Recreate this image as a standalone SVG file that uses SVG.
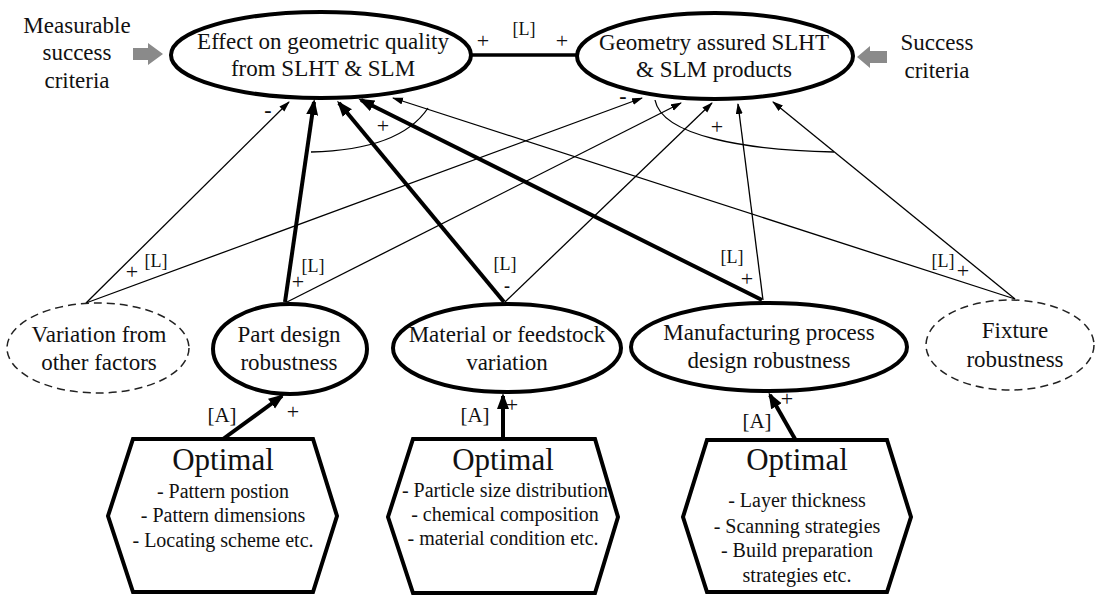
<svg xmlns="http://www.w3.org/2000/svg" width="1096" height="597" viewBox="0 0 1096 597">
  <style>
    text { font-family: "Liberation Serif", "Times New Roman", serif; fill: #111; }
    .t { font-size: 23px; text-anchor: middle; }
    .h { font-size: 31px; text-anchor: middle; }
    .s { font-size: 20px; text-anchor: middle; }
    .lab { font-size: 18px; text-anchor: middle; }
    .a { font-size: 21px; text-anchor: middle; }
    .sg { font-size: 22px; text-anchor: middle; }
    .neg { font-size: 22px; font-weight: bold; text-anchor: middle; }
    .solid { fill: #fff; stroke: #000; stroke-width: 4; }
    .dash { fill: #fff; stroke: #222; stroke-width: 1.5; stroke-dasharray: 8 5; }
    .hex { fill: #fff; stroke: #000; stroke-width: 4; stroke-linejoin: miter; }
    .thin { fill: none; stroke: #000; stroke-width: 1.3; marker-end: url(#ah-thin); }
    .thick { fill: none; stroke: #000; stroke-width: 4; marker-end: url(#ah-thick); }
    .arc { fill: none; stroke: #000; stroke-width: 1.3; }
    .gray { fill: #8a8a8a; }
  </style>
  <defs>
    <marker id="ah-thin" markerUnits="userSpaceOnUse" markerWidth="12" markerHeight="8" refX="10" refY="3.5" orient="auto">
      <path d="M0,0 L11,3.5 L0,7 z" fill="#000"/>
    </marker>
    <marker id="ah-thick" markerUnits="userSpaceOnUse" markerWidth="17" markerHeight="13" refX="13" refY="6" orient="auto">
      <path d="M0,0 L16,6 L0,12 z" fill="#000"/>
    </marker>
  </defs>

  <rect width="1096" height="597" fill="#fff"/>

  <!-- connectors -->
  <g id="connectors">
    <!-- link between the two top goals -->
    <line x1="471" y1="55" x2="578" y2="55" stroke="#000" stroke-width="3.5"/>
    <!-- thin links -->
    <path class="thin" d="M86,303 L289,102"/>
    <path class="thin" d="M86,303 L642,98"/>
    <path class="thin" d="M287,302 L681,103"/>
    <path class="thin" d="M505,302 L712,103"/>
    <path class="thin" d="M763,300 L738,104"/>
    <path class="thin" d="M1015,299 L773,102"/>
    <path class="thin" d="M1015,299 L393,98"/>
    <!-- thick links -->
    <path class="thick" d="M285,302 L314,102"/>
    <path class="thick" d="M504,302 L339,103"/>
    <path class="thick" d="M762,300 L361,100"/>
    <path class="thick" d="M223,439 L282,396"/>
    <path class="thick" d="M503,439 L503,396"/>
    <path class="thick" d="M795,439 L770,395"/>
    <!-- grouping arcs -->
    <path class="arc" d="M311,152 Q400,150 428,108"/>
    <path class="arc" d="M655,100 C662,136 745,150 834,152"/>
    <!-- polarity and link labels -->
    <text class="sg" x="483" y="48">+</text>
    <text class="lab" x="524" y="35">[L]</text>
    <text class="sg" x="562" y="48">+</text>
    <text class="neg" x="268" y="117">-</text>
    <text class="sg" x="383" y="133">+</text>
    <text class="neg" x="623" y="103">-</text>
    <text class="sg" x="717" y="134">+</text>
    <text class="sg" x="132" y="279">+</text>
    <text class="lab" x="156" y="267">[L]</text>
    <text class="sg" x="298" y="289">+</text>
    <text class="lab" x="313" y="272">[L]</text>
    <text class="lab" x="505" y="270">[L]</text>
    <text class="neg" x="507" y="292" style="font-size:18px">-</text>
    <text class="lab" x="732" y="263">[L]</text>
    <text class="sg" x="747" y="286">+</text>
    <text class="lab" x="943" y="267">[L]</text>
    <text class="sg" x="963" y="278">+</text>
    <text class="a" x="222" y="422">[A]</text>
    <text class="sg" x="293" y="419">+</text>
    <text class="a" x="475" y="422">[A]</text>
    <text class="sg" x="512" y="412">+</text>
    <text class="a" x="757" y="428">[A]</text>
    <text class="sg" x="787" y="406">+</text>
  </g>

  <!-- success criteria notes -->
  <g id="measurable-criteria">
    <text class="t" x="77" y="33">Measurable</text>
    <text class="t" x="77" y="60">success</text>
    <text class="t" x="77" y="88">criteria</text>
    <polygon class="gray" points="133,48 148,48 148,43 163,54 148,65 148,60 133,60"/>
  </g>
  <g id="success-criteria">
    <text class="t" x="937" y="50">Success</text>
    <text class="t" x="937" y="78">criteria</text>
    <polygon class="gray" points="887,51 870,51 870,46 857,57 870,68 870,63 887,63"/>
  </g>

  <!-- top goals -->
  <g id="effect-quality">
    <ellipse class="solid" cx="321" cy="55" rx="150" ry="43"/>
    <text class="t" x="323" y="49">Effect on geometric quality</text>
    <text class="t" x="323" y="76">from SLHT &amp; SLM</text>
  </g>
  <g id="geometry-assured">
    <ellipse class="solid" cx="715" cy="56" rx="138" ry="43"/>
    <text class="t" x="714" y="50">Geometry assured SLHT</text>
    <text class="t" x="714" y="77">&amp; SLM products</text>
  </g>

  <!-- factors -->
  <g id="variation-other">
    <ellipse class="dash" cx="98" cy="348" rx="91" ry="45"/>
    <text class="t" x="99" y="342">Variation from</text>
    <text class="t" x="99" y="370">other factors</text>
  </g>
  <g id="part-design">
    <ellipse class="solid" cx="290" cy="349" rx="77" ry="45"/>
    <text class="t" x="289" y="342">Part design</text>
    <text class="t" x="289" y="370">robustness</text>
  </g>
  <g id="material-variation">
    <ellipse class="solid" cx="507" cy="348" rx="114" ry="44"/>
    <text class="t" x="507" y="342">Material or feedstock</text>
    <text class="t" x="507" y="370">variation</text>
  </g>
  <g id="process-design">
    <ellipse class="solid" cx="769" cy="347" rx="138" ry="44"/>
    <text class="t" x="769" y="340">Manufacturing process</text>
    <text class="t" x="769" y="368">design robustness</text>
  </g>
  <g id="fixture">
    <ellipse class="dash" cx="1010" cy="345" rx="84" ry="45"/>
    <text class="t" x="1015" y="338">Fixture</text>
    <text class="t" x="1015" y="367">robustness</text>
  </g>

  <!-- optimisation hexagons -->
  <g id="opt-part">
    <polygon class="hex" points="133,439 313,439 337,516 313,592 133,592 108,516"/>
    <text class="h" x="223" y="470">Optimal</text>
    <text class="s" x="223" y="498">- Pattern postion</text>
    <text class="s" x="223" y="522">- Pattern dimensions</text>
    <text class="s" x="223" y="547">- Locating scheme etc.</text>
  </g>
  <g id="opt-material">
    <polygon class="hex" points="413,439 595,439 618,517 595,593 413,593 388,517"/>
    <text class="h" x="503" y="470">Optimal</text>
    <text class="s" x="505" y="497">- Particle size distribution</text>
    <text class="s" x="505" y="521">- chemical composition</text>
    <text class="s" x="503" y="545">- material condition etc.</text>
  </g>
  <g id="opt-process">
    <polygon class="hex" points="707,440 887,440 911,517 887,592 707,592 683,517"/>
    <text class="h" x="797" y="470">Optimal</text>
    <text class="s" x="797" y="507">- Layer thickness</text>
    <text class="s" x="797" y="533">- Scanning strategies</text>
    <text class="s" x="797" y="557">- Build preparation</text>
    <text class="s" x="797" y="582">strategies etc.</text>
  </g>
</svg>
